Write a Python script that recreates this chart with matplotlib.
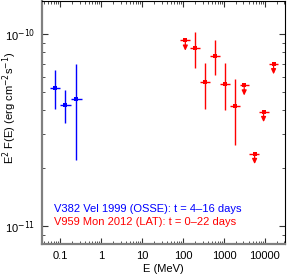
import matplotlib
matplotlib.use("Agg")
import matplotlib.pyplot as plt
import numpy as np

plt.rcParams['font.family'] = ['Liberation Sans', 'DejaVu Sans']

# OSSE (V382 Vel 1999)
osse_e = [0.0755, 0.132, 0.245]
osse_elo = [0.057, 0.100, 0.182]
osse_ehi = [0.100, 0.182, 0.338]
osse_f = [5.26e-11, 4.26e-11, 4.58e-11]
osse_flo = [4.09e-11, 3.43e-11, 2.22e-11]
osse_fhi = [6.45e-11, 5.10e-11, 6.96e-11]

# LAT (V959 Mon 2012)
lat_edges = [85.9, 150.7, 264, 456, 798, 1377, 2415, 4140, 7145, 12300, 21100]
lat_e = [114, 200, 344, 593, 1040, 1824, 3126, 5610, 9290, 16300]
lat_f = [9.23e-11, 8.43e-11, 5.59e-11, 7.66e-11, 5.50e-11, 4.21e-11,
         5.40e-11, 2.38e-11, 3.93e-11, 6.96e-11]
lat_flo = [None, 6.64e-11, 4.09e-11, 6.08e-11, 4.02e-11, 2.65e-11,
           None, None, None, None]
lat_fhi = [None, 1.02e-10, 7.05e-11, 9.23e-11, 7.05e-11, 5.82e-11,
           None, None, None, None]
lat_ul = [True, False, False, False, False, False, True, True, True, True]

label_osse = "V382 Vel 1999 (OSSE): t = 4\u201316 days"
label_lat = "V959 Mon 2012 (LAT): t = 0\u201322 days"

fig = plt.figure(figsize=(2.87, 2.78), dpi=100)
ax = fig.add_axes([42/287, 34/278, (285-42)/287, (277-34)/278])

blue = '#0000ff'
red = '#ff0000'

# OSSE points
oe = np.array(osse_e); of = np.array(osse_f)
ax.errorbar(oe, of,
            xerr=[oe - np.array(osse_elo), np.array(osse_ehi) - oe],
            yerr=[of - np.array(osse_flo), np.array(osse_fhi) - of],
            fmt='s', ms=2.5, color=blue, ecolor=blue, elinewidth=1.0,
            capsize=1.5, capthick=1.0, mew=0)

# LAT points
le = np.array(lat_e, dtype=float)
edges = np.array(lat_edges, dtype=float)
xlo = le - edges[:-1]
xhi = edges[1:] - le
for i in range(len(le)):
    if lat_ul[i]:
        ax.errorbar([le[i]], [lat_f[i]], xerr=[[xlo[i]], [xhi[i]]],
                    fmt='s', ms=2.5, color=red, ecolor=red, elinewidth=1.0,
                    capsize=1.5, capthick=1.0, mew=0)
        ax.annotate('', xy=(le[i], lat_f[i] * 0.885), xytext=(le[i], lat_f[i]),
                    arrowprops=dict(arrowstyle='-|>,head_length=0.3,head_width=0.14',
                                    color=red, lw=0.9, shrinkA=0, shrinkB=0))
    else:
        ax.errorbar([le[i]], [lat_f[i]], xerr=[[xlo[i]], [xhi[i]]],
                    yerr=[[lat_f[i] - lat_flo[i]], [lat_fhi[i] - lat_f[i]]],
                    fmt='s', ms=2.5, color=red, ecolor=red, elinewidth=1.0,
                    capsize=1.5, capthick=1.0, mew=0)

ax.set_xscale('log')
ax.set_yscale('log')
ax.set_xlim(0.036, 3.1e4)
ax.set_ylim(8.1e-12, 1.48e-10)

ax.set_xticks([0.1, 1, 10, 100, 1000, 10000])
ax.set_xticklabels(['0.1', '1', '10', '100', '1000', '10000'])
ax.set_yticks([1e-11, 1e-10])
ax.set_yticklabels([r'10$^{-11}$', r'10$^{-10}$'])

ax.tick_params(which='both', direction='in', top=True, right=True,
               labelsize=8, color='#333333')
ax.tick_params(which='major', length=4, width=0.8, pad=5)
ax.tick_params(which='minor', length=2, width=0.6)

for s in ['left', 'bottom']:
    ax.spines[s].set_color('#808080')
    ax.spines[s].set_linewidth(1.6)
for s in ['top', 'right']:
    ax.spines[s].set_color('black')
    ax.spines[s].set_linewidth(0.8)

ax.set_xlabel('E (MeV)', fontsize=8, labelpad=2)
ax.set_ylabel(r'E$^2$ F(E) (erg cm$^{-2}$s$^{-1}$)', fontsize=8)
ax.yaxis.set_label_coords(-0.095, 0.56)

ax.text(0.05, 0.145, label_osse, color=blue, fontsize=8, transform=ax.transAxes,
        va='center', ha='left')
ax.text(0.05, 0.092, label_lat, color=red, fontsize=8, transform=ax.transAxes,
        va='center', ha='left')

fig.savefig('out.png', dpi=100)
